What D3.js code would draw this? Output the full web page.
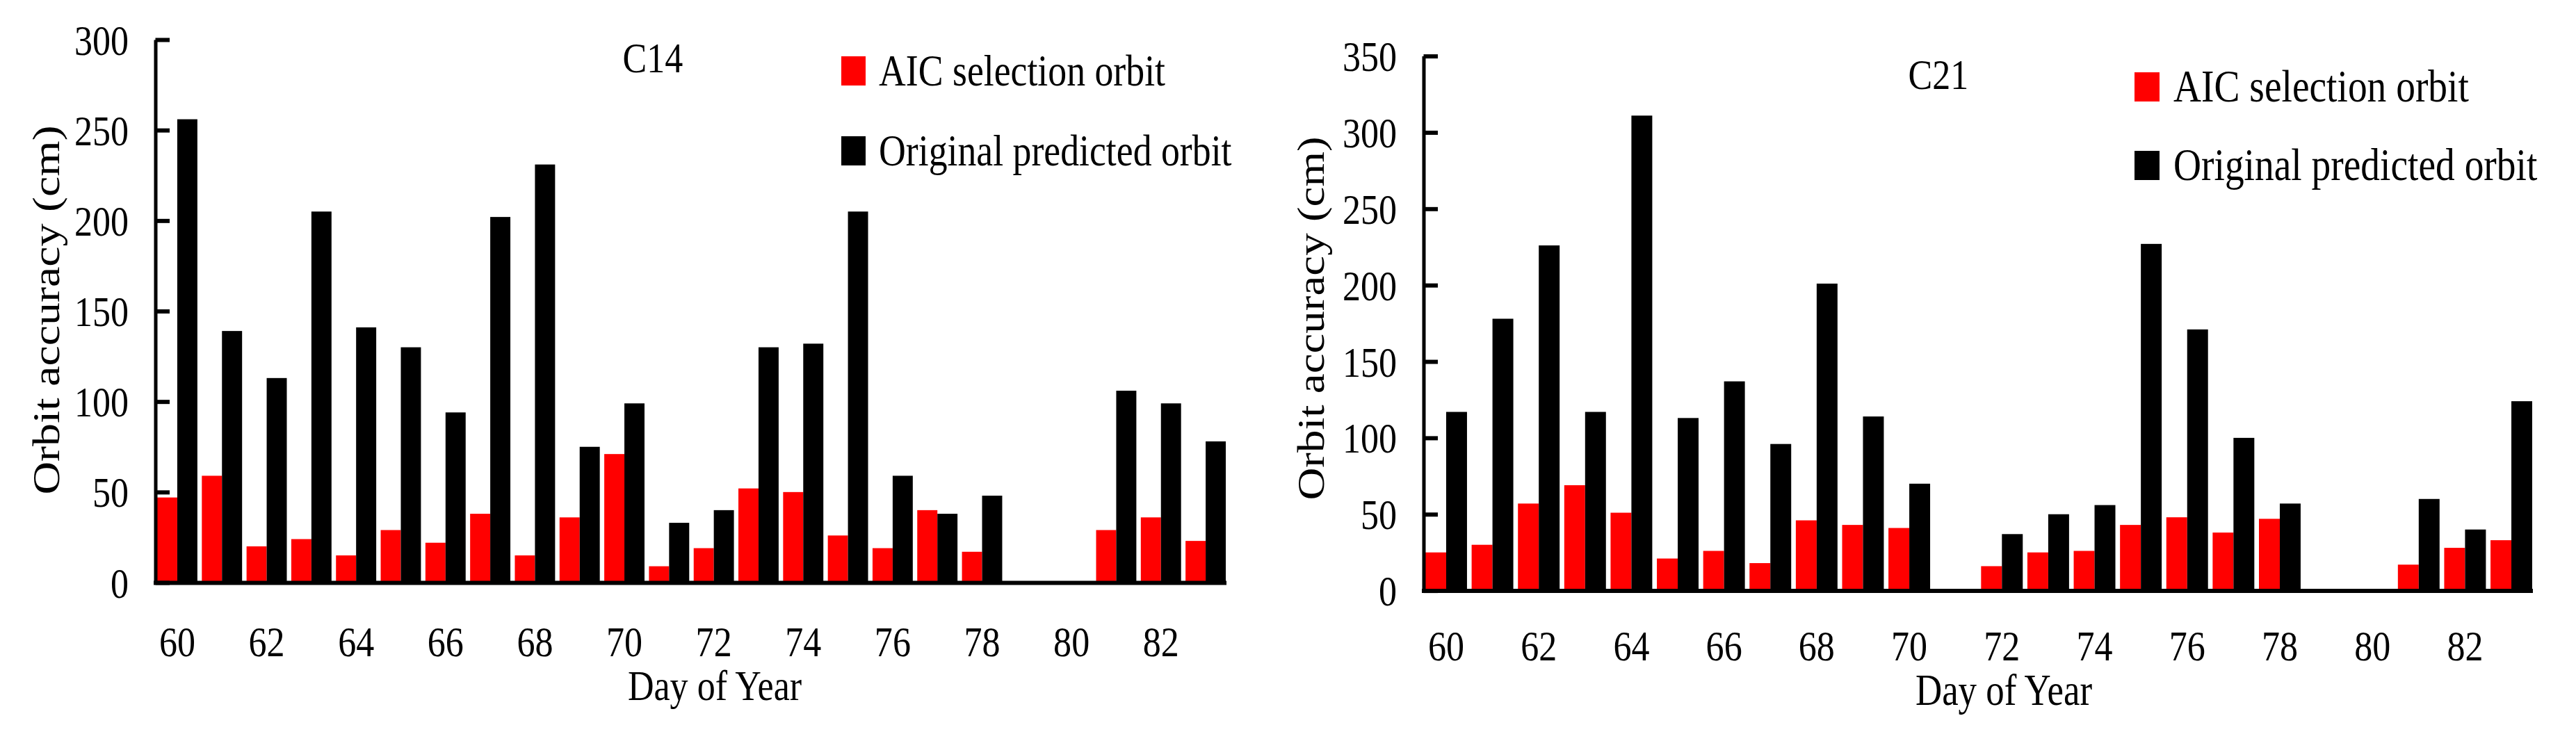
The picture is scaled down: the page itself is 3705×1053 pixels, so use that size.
<!DOCTYPE html>
<html><head><meta charset="utf-8">
<script src="https://cdn.jsdelivr.net/npm/d3@7/dist/d3.min.js"></script>
<style>body{margin:0;background:#fff}svg{display:block}</style></head>
<body><svg id="chart" width="3705" height="1053"></svg>
<script>
const days = [60,61,62,63,64,65,66,67,68,69,70,71,72,73,74,75,76,77,78,79,80,81,82,83];
const xTickLabels = [60,62,64,66,68,70,72,74,76,78,80,82];
const seriesNames = ["AIC selection orbit","Original predicted orbit"];
const seriesColors = ["#ff0000","#000000"];

const c14AIC  = [47,59,20,24,15,29,22,38,15,36,71,9,19,52,50,26,19,40,17,0,0,29,36,23];
const c14Orig = [256,139,113,205,141,130,94,202,231,75,99,33,40,130,132,205,59,38,48,0,0,106,99,78];
const c14YTicks = [0,50,100,150,200,250,300];

const c21AIC  = [25,30,57,69,51,21,26,18,46,43,41,0,16,25,26,43,48,38,47,0,0,17,28,33];
const c21Orig = [117,178,226,117,311,113,137,96,201,114,70,0,37,50,56,227,171,100,57,0,0,60,40,124];
const c21YTicks = [0,50,100,150,200,250,300,350];

const SX = 0.84; // horizontal squeeze of the reference's glyphs
const FONT = "'Liberation Serif','Times New Roman',serif";
const svg = d3.select("#chart");

function panel(o){
  const g = svg.append("g");
  const x = d3.scaleBand().domain(days).range([o.bx0, o.bx1]).paddingInner(0.1).paddingOuter(0);
  const xs = d3.scaleBand().domain([0,1]).range([0, x.bandwidth()]);
  const y = d3.scaleLinear().domain([0, o.yMax]).range([o.y0, o.y1]);

  // bars
  [o.aic, o.orig].forEach((vals, si) => {
    g.append("g").selectAll("rect").data(days.map((d,i)=>({d, v: vals[i]})).filter(e=>e.v>0))
      .join("rect")
      .attr("x", e => x(e.d) + xs(si))
      .attr("width", xs.bandwidth())
      .attr("y", e => y(e.v))
      .attr("height", e => y(0) - y(e.v))
      .attr("fill", seriesColors[si]);
  });

  // y axis
  const ya = g.append("g").attr("transform", `translate(${o.ax},0)`)
    .call(d3.axisLeft(y).tickValues(o.yTicks).tickSizeInner(-o.tickLen).tickSizeOuter(0).tickPadding(o.pad));
  ya.select(".domain").attr("stroke-width", 5);
  ya.selectAll(".tick line").attr("stroke-width", 6);
  ya.selectAll(".tick text")
    .attr("font-family", FONT).attr("font-size", 62).attr("fill", "#000")
    .attr("x", null).attr("dy", "0.34em")
    .attr("transform", `translate(${-o.pad},0) scale(${SX},1)`);

  // x axis line
  g.append("line").attr("x1", o.ax - 2.5).attr("x2", o.bx1 + 1)
    .attr("y1", o.y0 + 0.5).attr("y2", o.y0 + 0.5)
    .attr("stroke", "#000").attr("stroke-width", 6);

  // x tick labels
  const xa = g.append("g").attr("transform", `translate(0,${o.xLabY})`)
    .call(d3.axisBottom(x).tickValues(xTickLabels).tickSize(0).tickPadding(0));
  xa.select(".domain").remove();
  xa.selectAll(".tick text")
    .attr("font-family", FONT).attr("font-size", 62).attr("fill", "#000")
    .attr("y", null).attr("dy", null)
    .attr("transform", `scale(${SX},1)`);
  xa.selectAll(".tick").each(function(){
    const t = d3.select(this).attr("transform");
    const tx = +t.match(/translate\(([-\d.]+)/)[1];
    d3.select(this).attr("transform", `translate(${tx},0)`);
  });

  // axis titles
  g.append("text").attr("transform", `translate(${o.ylabX},${o.ylabY}) scale(${SX},1) rotate(-90)`)
    .attr("text-anchor", "middle").attr("dy", "0.35em")
    .attr("font-family", FONT).attr("font-size", o.ylabSize).text("Orbit accuracy (cm)");
  g.append("text").attr("transform", `translate(${o.xlabX},${o.xlabY}) scale(${SX},1)`)
    .attr("text-anchor", "middle")
    .attr("font-family", FONT).attr("font-size", o.xlabSize).text("Day of Year");

  // panel title
  g.append("text").attr("transform", `translate(${o.titleX},${o.titleY}) scale(${SX},1)`)
    .attr("text-anchor", "middle")
    .attr("font-family", FONT).attr("font-size", 62).text(o.title);

  // legend
  seriesNames.forEach((name, i) => {
    g.append("rect").attr("x", o.legX).attr("y", o.legY[i]).attr("width", o.legW).attr("height", 42)
      .attr("fill", seriesColors[i]);
    g.append("text").attr("transform", `translate(${o.legTX},${o.legY[i] + 42}) scale(${SX},1)`)
      .attr("font-family", FONT).attr("font-size", o.legSize).text(name);
  });
}

panel({
  title: "C14", aic: c14AIC, orig: c14Orig, yMax: 300, yTicks: c14YTicks,
  bx0: 226, bx1: 1763, y0: 838, y1: 57, ax: 223.5, tickLen: 20.5, pad: 38.5,
  xLabY: 944, ylabX: 66, ylabY: 446, ylabSize: 66,
  xlabX: 1028, xlabY: 1007, xlabSize: 62,
  titleX: 939, titleY: 104,
  legX: 1210, legW: 35, legY: [81, 196], legTX: 1264, legSize: 64
});

panel({
  title: "C21", aic: c21AIC, orig: c21Orig, yMax: 350, yTicks: c21YTicks,
  bx0: 2050, bx1: 3642, y0: 849.6, y1: 80.6, ax: 2047.5, tickLen: 20.5, pad: 38.5,
  xLabY: 950, ylabX: 1885, ylabY: 458, ylabSize: 65,
  xlabX: 2882, xlabY: 1014, xlabSize: 63,
  titleX: 2788, titleY: 128,
  legX: 3070, legW: 36, legY: [104, 217], legTX: 3126, legSize: 66
});
</script></body></html>
